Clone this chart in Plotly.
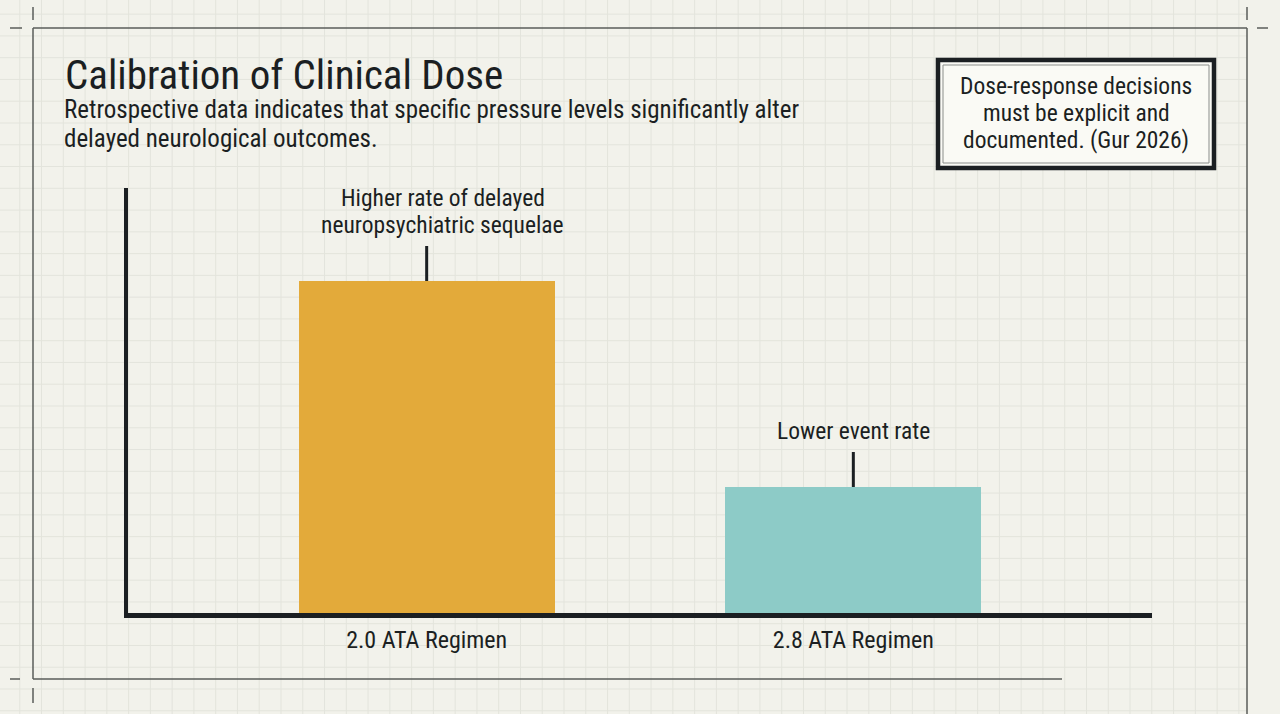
import plotly.graph_objects as go

# ---- data ----
categories = ["2.0 ATA Regimen", "2.8 ATA Regimen"]
event_rate = [33.2, 12.6]          # relative rate of delayed neuropsychiatric sequelae
bar_colors = ["#E3AA3A", "#8DCBC7"]
bar_notes = [["Higher rate of delayed", "neuropsychiatric sequelae"], ["Lower event rate"]]
y_max = 42.5

title = "Calibration of Clinical Dose"
subtitle = ["Retrospective data indicates that specific pressure levels significantly alter",
            "delayed neurological outcomes."]
callout = ["Dose-response decisions", "must be explicit and", "documented. (Gur 2026)"]

FONT = "Roboto Condensed, Liberation Sans Narrow, Roboto, sans-serif"
INK = "#1b1f22"
W, H = 1280, 714
L, R, T, B = 128, 128, 188, 101
PW, PH = W - L - R, H - T - B


def px(x):
    return (x - L) / PW


def py(y):
    return (H - B - y) / PH


x_idx = list(range(len(categories)))

fig = go.Figure()
fig.add_trace(go.Bar(
    x=x_idx, y=event_rate, width=0.6,
    marker=dict(color=bar_colors, line=dict(width=0)),
    hoverinfo="skip", showlegend=False,
))

shapes = []
# background grid
g = 21.77
gx = 63.3 - 3 * g
while gx < 1247:
    shapes.append(dict(type="line", xref="paper", yref="paper", x0=px(gx), x1=px(gx), y0=py(0), y1=py(H),
                       line=dict(color="#e3e4dc", width=1), layer="below"))
    gx += g
gy = 188.3 - 9 * g
while gy < H:
    shapes.append(dict(type="line", xref="paper", yref="paper", x0=px(0), x1=px(1247), y0=py(gy), y1=py(gy),
                       line=dict(color="#e3e4dc", width=1), layer="below"))
    gy += g

frame_col = "#5a5d5a"


def seg(x0, y0, x1, y1, w=1.5, col=frame_col):
    shapes.append(dict(type="line", xref="paper", yref="paper", x0=px(x0), x1=px(x1), y0=py(y0), y1=py(y1),
                       line=dict(color=col, width=w), layer="below"))


seg(33, 28, 1247, 28)
seg(33, 28, 33, 679)
seg(33, 679, 1062, 679)
seg(1247, 28, 1247, 714)
# crop marks
seg(10, 28, 22, 28)
seg(33, 7, 33, 20)
seg(1247, 7, 1247, 20)
seg(1257, 28, 1268, 28)
seg(10, 679, 20, 679)
seg(33, 688, 33, 703)

# callout box
shapes.append(dict(type="rect", xref="paper", yref="paper", x0=px(938), x1=px(1214), y0=py(60), y1=py(168),
                   line=dict(color=INK, width=4.5), fillcolor="#fafaf5"))
shapes.append(dict(type="rect", xref="paper", yref="paper", x0=px(943), x1=px(1209), y0=py(65), y1=py(163),
                   line=dict(color="#8a8d8a", width=1), fillcolor="rgba(0,0,0,0)"))

# connectors above bars
for i, v in zip(x_idx, event_rate):
    shapes.append(dict(type="line", xref="x", yref="y", x0=i, x1=i, ysizemode="pixel", yanchor=v,
                       y0=0, y1=35, line=dict(color=INK, width=3)))

annotations = [
    dict(text=title, xref="paper", yref="paper", x=px(63), y=py(75), xanchor="left", yanchor="middle",
         showarrow=False, font=dict(family=FONT, size=41, color=INK)),
]
for k, line in enumerate(subtitle):
    annotations.append(dict(text=line, xref="paper", yref="paper", x=px(63), y=py(109 + 29 * k),
                            xanchor="left", yanchor="middle", showarrow=False, borderpad=0,
                            font=dict(family=FONT, size=25, color=INK)))
for k, line in enumerate(callout):
    annotations.append(dict(text=line, xref="paper", yref="paper", x=px(1076), y=py(86 + 27 * k),
                            xanchor="center", yanchor="middle", showarrow=False, borderpad=0,
                            font=dict(family=FONT, size=23.5, color=INK)))
shifts = [16, 0]
for i, v, note, s in zip(x_idx, event_rate, bar_notes, shifts):
    n = len(note)
    for k, line in enumerate(note):
        annotations.append(dict(text=line, xref="x", yref="y", x=i, y=v, xanchor="center", yanchor="middle",
                                yshift=56 + 27.5 * (n - 1 - k), xshift=s, showarrow=False, borderpad=0,
                                font=dict(family=FONT, size=23.5, color=INK)))

fig.update_layout(
    width=W, height=H,
    margin=dict(l=L, r=R, t=T, b=B),
    paper_bgcolor="#f2f2eb", plot_bgcolor="rgba(0,0,0,0)",
    shapes=shapes, annotations=annotations,
    xaxis=dict(range=[-0.7, 1.7], tickvals=x_idx, ticktext=categories, showgrid=False, zeroline=False,
               showline=True, linewidth=5, linecolor=INK, ticks="", ticklabelstandoff=1,
               tickfont=dict(family=FONT, size=24, color=INK), fixedrange=True),
    yaxis=dict(range=[0, y_max], showticklabels=False, showgrid=False, zeroline=False,
               showline=True, linewidth=4, linecolor=INK, ticks="", fixedrange=True),
    bargap=0,
)

fig.write_html("out.html")
